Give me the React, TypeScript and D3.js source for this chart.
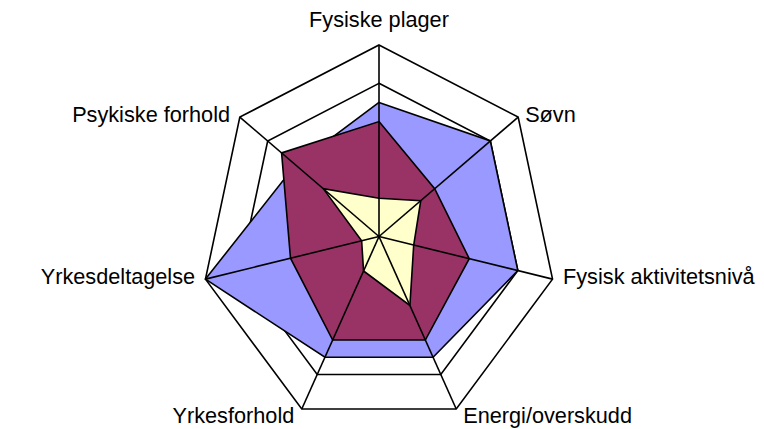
import React from "react";
import * as d3 from "d3";

const axes = [
  "Fysiske plager",
  "Søvn",
  "Fysisk aktivitetsnivå",
  "Energi/overskudd",
  "Yrkesforhold",
  "Yrkesdeltagelse",
  "Psykiske forhold",
];

const seriesBlue = [3.5, 4, 4, 3.5, 3.5, 5, 3];
const seriesRed = [3, 2, 2.6, 3, 3, 2.55, 3.5];
const seriesYellow = [1, 1.5, 1, 2, 1, 0.5, 2];

const ringLevels = [1, 2, 3, 4, 5];

const W = 764;
const H = 429;
const cx = 379;
const cy = 236.5;
const maxVal = 5;

const rX = d3.scaleLinear().domain([0, maxVal]).range([0, 178]);
const rY = d3.scaleLinear().domain([0, maxVal]).range([0, 191.5]);
const angle = d3
  .scaleLinear()
  .domain([0, axes.length])
  .range([0, 2 * Math.PI]);

function pt(i: number, v: number): [number, number] {
  const a = angle(i);
  return [cx + rX(v) * Math.sin(a), cy - rY(v) * Math.cos(a)];
}

const closedLine = d3
  .line<[number, number]>()
  .x((d) => d[0])
  .y((d) => d[1])
  .curve(d3.curveLinearClosed);

function polyPath(vals: number[]) {
  return closedLine(vals.map((v, i) => pt(i, v))) || "";
}

const series = [
  { name: "A", values: seriesBlue, fill: "#9999FF" },
  { name: "B", values: seriesRed, fill: "#993366" },
  { name: "C", values: seriesYellow, fill: "#FFFFCC" },
];

export default function App() {
  return (
    <svg
      width={W}
      height={H}
      viewBox={`0 0 ${W} ${H}`}
      style={{ position: "absolute", left: 0, top: 0, background: "#fff" }}
    >
      <rect x={0} y={0} width={W} height={H} fill="#fff" />
      {ringLevels.map((lv) => (
        <path
          key={"ring" + lv}
          d={polyPath(axes.map(() => lv))}
          fill="none"
          stroke="#000"
          strokeWidth={1.6}
          strokeLinejoin="miter"
        />
      ))}
      {series.map((s) => (
        <path
          key={s.name}
          d={polyPath(s.values)}
          fill={s.fill}
          stroke="#000"
          strokeWidth={1.6}
          strokeLinejoin="miter"
        />
      ))}
      {axes.map((a, i) => {
        const [x, y] = pt(i, maxVal);
        return (
          <line
            key={"spoke" + i}
            x1={cx}
            y1={cy}
            x2={x}
            y2={y}
            stroke="#000"
            strokeWidth={1.6}
          />
        );
      })}
      {axes.map((a, i) => {
        const [x, y] = pt(i, maxVal);
        const s = Math.sin(angle(i));
        const c = Math.cos(angle(i));
        let anchor: "start" | "middle" | "end" = "middle";
        let dx = 0;
        let dy = 5;
        if (c > 0.95) {
          dy = -17.7;
        } else if (c < -0.8) {
          dy = 13.7;
          anchor = s > 0 ? "start" : "end";
          dx = s > 0 ? 7 : -7.5;
        } else {
          anchor = s > 0 ? "start" : "end";
          if (Math.abs(s) > 0.9) dx = s > 0 ? 10.5 : -10.4;
          else dx = s > 0 ? 7 : -9.8;
        }
        return (
          <text
            key={"lab" + i}
            x={x + dx}
            y={y + dy}
            textAnchor={anchor}
            fontFamily="'Liberation Sans', Arial, sans-serif"
            fontSize={21.7}
            fill="#000"
          >
            {a}
          </text>
        );
      })}
    </svg>
  );
}
